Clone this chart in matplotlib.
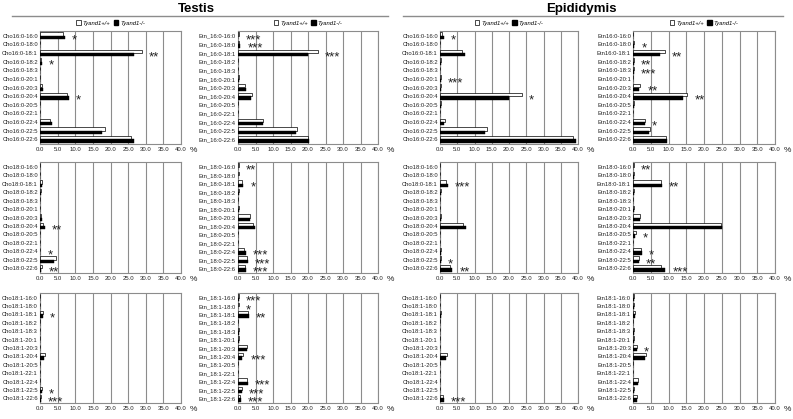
import matplotlib
matplotlib.use("Agg")
import matplotlib.pyplot as plt
from matplotlib.patches import Patch
from matplotlib.lines import Line2D
import numpy as np

plt.rcParams['font.family'] = ['Liberation Sans', 'DejaVu Sans']

suffixes = ["16:0", "18:0", "18:1", "18:2", "18:3", "20:1", "20:3", "20:4",
            "20:5", "22:1", "22:4", "22:5", "22:6"]
prefixes = ["Cho16:0-", "Etn_16:0-", "Cho16:0-", "Etn16:0-",
            "Cho18:0-", "Etn_18:0-", "Cho18:0-", "Etn18:0-",
            "Cho18:1-", "Etn_18:1-", "Cho18:1-", "Etn18:1-"]
legend_labels = ["Tyand1+/+", "Tyand1-/-"]
xtick_values = [0, 5, 10, 15, 20, 25, 30, 35, 40]

# ---- Testis, Cho 16:0 ----
testis_cho160_wt = [6.6, 0, 28.8, 0.3, 0, 0.1, 0.5, 7.6, 0.1, 0, 2.8, 18.4, 25.8]
testis_cho160_ko = [7.1, 0, 26.7, 0.5, 0, 0.1, 0.8, 8.2, 0.1, 0, 3.3, 17.7, 26.7]
testis_cho160_sig = ["*", "", "**", "*", "", "", "", "*", "", "", "", "", ""]
# ---- Testis, Etn 16:0 ----
testis_etn160_wt = [0.3, 0.4, 22.9, 0.1, 0.1, 0.2, 2.0, 4.0, 0.1, 0, 7.1, 16.8, 20.0]
testis_etn160_ko = [0.1, 0.7, 20.0, 0.1, 0.1, 0.4, 2.2, 3.8, 0.1, 0, 7.1, 16.5, 20.2]
testis_etn160_sig = ["***", "***", "***", "", "", "", "", "", "", "", "", "", ""]
# ---- Epididymis, Cho 16:0 ----
epi_cho160_wt = [0.7, 0, 6.5, 0.2, 0.1, 0.2, 0.2, 23.8, 0.3, 0, 1.4, 13.6, 38.5]
epi_cho160_ko = [1.2, 0, 7.2, 0.2, 0.1, 0.2, 0.2, 20.1, 0.3, 0, 1.3, 13.1, 39.5]
epi_cho160_sig = ["*", "", "", "", "", "***", "", "*", "", "", "", "", ""]
# ---- Epididymis, Etn 16:0 ----
epi_etn160_wt = [0.1, 0.4, 8.9, 0.2, 0.3, 0.1, 2.1, 15.3, 0.4, 0, 3.3, 4.7, 9.3]
epi_etn160_ko = [0.1, 0.3, 7.7, 0.2, 0.2, 0.1, 1.6, 14.0, 0.4, 0, 3.3, 4.6, 9.6]
epi_etn160_sig = ["", "*", "**", "**", "***", "", "**", "**", "", "", "*", "", ""]
# ---- Testis, Cho 18:0 ----
testis_cho180_wt = [0.1, 0, 0.5, 0.2, 0, 0.1, 0.4, 0.8, 0, 0, 0.1, 4.5, 0.5]
testis_cho180_ko = [0.1, 0, 0.5, 0.2, 0, 0.1, 0.5, 1.3, 0, 0, 0.1, 4.1, 0.4]
testis_cho180_sig = ["", "", "", "", "", "", "", "**", "", "", "*", "", "**"]
# ---- Testis, Etn 18:0 ----
testis_etn180_wt = [0.2, 0.2, 1.2, 0.3, 0.1, 0.3, 3.3, 4.4, 0.1, 0, 1.7, 2.7, 1.9]
testis_etn180_ko = [0.1, 0.1, 1.5, 0.3, 0.1, 0.3, 3.4, 4.8, 0.1, 0, 2.2, 2.9, 2.2]
testis_etn180_sig = ["**", "", "*", "", "", "", "", "", "", "", "***", "***", "***"]
# ---- Epididymis, Cho 18:0 ----
epi_cho180_wt = [0, 0, 1.6, 0.2, 0, 0, 0.2, 6.7, 0, 0, 0.2, 0.3, 2.9]
epi_cho180_ko = [0, 0, 2.2, 0.2, 0, 0, 0.2, 7.4, 0, 0, 0.2, 0.2, 3.6]
epi_cho180_sig = ["", "", "***", "", "", "", "", "", "", "", "", "*", "**"]
# ---- Epididymis, Etn 18:0 ----
epi_etn180_wt = [0.2, 0.4, 7.9, 0.2, 0, 0.2, 2.1, 24.8, 0.8, 0, 2.2, 1.6, 7.9]
epi_etn180_ko = [0.1, 0.4, 8.2, 0.2, 0, 0.2, 1.9, 25.2, 0.6, 0, 2.5, 1.6, 9.1]
epi_etn180_sig = ["**", "", "**", "", "", "", "", "", "*", "", "*", "**", "***"]
# ---- Testis, Cho 18:1 ----
testis_cho181_wt = [0, 0, 0.9, 0, 0, 0, 0, 1.3, 0, 0, 0, 0.5, 0.2]
testis_cho181_ko = [0, 0, 0.8, 0, 0, 0, 0, 1.2, 0, 0, 0, 0.5, 0.2]
testis_cho181_sig = ["", "", "*", "", "", "", "", "", "", "", "", "*", "***"]
# ---- Testis, Etn 18:1 ----
testis_etn181_wt = [0.3, 0.2, 2.8, 0.1, 0.2, 0.2, 2.5, 1.5, 0, 0, 2.6, 1.1, 0.7]
testis_etn181_ko = [0.3, 0.1, 3.2, 0.1, 0.2, 0.2, 2.5, 1.1, 0, 0, 2.9, 1.1, 0.9]
testis_etn181_sig = ["***", "*", "**", "", "", "", "", "***", "", "", "***", "***", "***"]
# ---- Epididymis, Cho 18:1 ----
epi_cho181_wt = [0, 0, 0.2, 0, 0, 0, 0, 2.0, 0, 0, 0.1, 0.1, 0.8]
epi_cho181_ko = [0, 0, 0.2, 0, 0, 0, 0, 1.7, 0, 0, 0.1, 0.1, 1.2]
epi_cho181_sig = ["", "", "", "", "", "", "", "", "", "", "", "", "***"]
# ---- Epididymis, Etn 18:1 ----
epi_etn181_wt = [0.2, 0.2, 0.7, 0, 0.2, 0.2, 1.0, 3.7, 0, 0, 1.5, 0.4, 1.0]
epi_etn181_ko = [0.2, 0.2, 0.7, 0, 0.2, 0.2, 1.0, 3.5, 0, 0, 1.5, 0.4, 1.0]
epi_etn181_sig = ["", "", "", "", "", "", "*", "", "", "", "", "", ""]

panels = [
    (testis_cho160_wt, testis_cho160_ko, testis_cho160_sig),
    (testis_etn160_wt, testis_etn160_ko, testis_etn160_sig),
    (epi_cho160_wt, epi_cho160_ko, epi_cho160_sig),
    (epi_etn160_wt, epi_etn160_ko, epi_etn160_sig),
    (testis_cho180_wt, testis_cho180_ko, testis_cho180_sig),
    (testis_etn180_wt, testis_etn180_ko, testis_etn180_sig),
    (epi_cho180_wt, epi_cho180_ko, epi_cho180_sig),
    (epi_etn180_wt, epi_etn180_ko, epi_etn180_sig),
    (testis_cho181_wt, testis_cho181_ko, testis_cho181_sig),
    (testis_etn181_wt, testis_etn181_ko, testis_etn181_sig),
    (epi_cho181_wt, epi_cho181_ko, epi_cho181_sig),
    (epi_etn181_wt, epi_etn181_ko, epi_etn181_sig),
]

W, H = 793, 419
fig = plt.figure(figsize=(W / 100, H / 100), dpi=100)
fig.patch.set_facecolor('white')

cols = [(40, 181), (238, 378), (440, 578), (633, 775)]
rows = [(31, 144), (162, 273), (293, 403)]
gray = '#8c8c8c'

for idx, (wt, ko, sig) in enumerate(panels):
    r, c = divmod(idx, 4)
    x0, x1 = cols[c]
    y0, y1 = rows[r]
    ax = fig.add_axes([x0 / W, 1 - y1 / H, (x1 - x0) / W, (y1 - y0) / H])
    y = np.arange(len(suffixes))
    ax.barh(y - 0.2, wt, height=0.4, color='white', edgecolor='black', linewidth=0.5, zorder=3)
    ax.barh(y + 0.2, ko, height=0.4, color='black', edgecolor='black', linewidth=0.3, zorder=3)
    for i, s in enumerate(sig):
        if s:
            ax.text(max(wt[i], ko[i]) + 2.0, i + 0.5, s, fontsize=9.5, ha='left', va='center',
                    color='#222222', zorder=4)
    ax.set_xlim(0, 40)
    ax.set_ylim(len(suffixes) - 0.45, -0.55)
    ax.set_yticks(y)
    ax.set_yticklabels([prefixes[idx] + s for s in suffixes], fontsize=4.2, color='#222222')
    ax.set_xticks(xtick_values)
    ax.set_xticklabels([f"{v:.1f}" for v in xtick_values], fontsize=4.3, color='#222222')
    ax.tick_params(length=0, pad=2.5)
    ax.tick_params(axis='y', pad=1.5)
    ax.grid(axis='x', color=gray, linewidth=0.8, zorder=0)
    ax.set_axisbelow(True)
    for sp in ax.spines.values():
        sp.set_color(gray)
        sp.set_linewidth(0.8)
    ax.annotate('%', xy=(1, 0), xycoords='axes fraction', xytext=(6.5, -5),
                textcoords='offset points', fontsize=6, ha='left', va='center', color='#222222')
    if r == 0:
        handles = [Patch(facecolor='white', edgecolor='black', linewidth=0.5),
                   Patch(facecolor='black', edgecolor='black')]
        ax.legend(handles, legend_labels, loc='lower center', bbox_to_anchor=(0.5, 1.0),
                  ncol=2, frameon=False, prop={'size': 4.2, 'style': 'italic'},
                  handlelength=0.8, handleheight=0.8, columnspacing=0.6,
                  handletextpad=0.3, borderaxespad=0.5)

fig.text(196 / W, 1 - 9 / H, "Testis", fontsize=9.5, fontweight='bold', ha='center', va='center')
fig.text(581 / W, 1 - 9 / H, "Epididymis", fontsize=9.5, fontweight='bold', ha='center', va='center')
fig.add_artist(Line2D([12 / W, 388 / W], [1 - 16 / H] * 2, color=gray, linewidth=1))
fig.add_artist(Line2D([403 / W, 783 / W], [1 - 16 / H] * 2, color=gray, linewidth=1))

fig.savefig("out.png", dpi=100)
